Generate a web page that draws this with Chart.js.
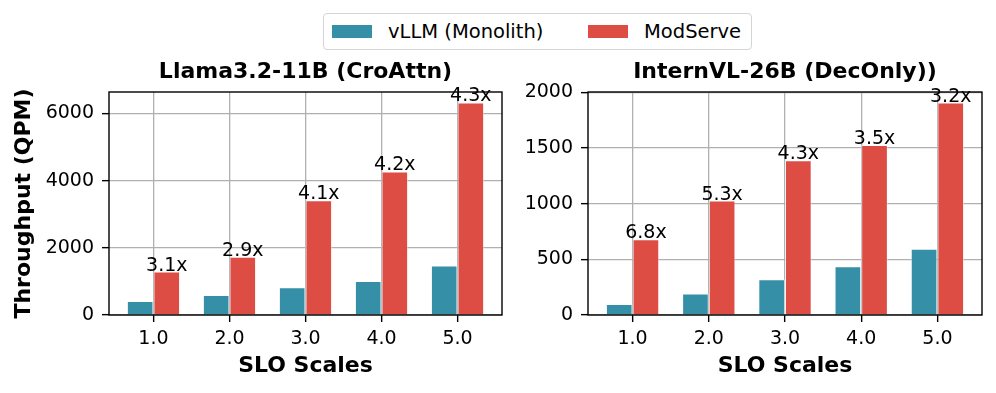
<!DOCTYPE html>
<html>
<head>
<meta charset="utf-8">
<script src="https://cdn.jsdelivr.net/npm/chart.js@4.4.1/dist/chart.umd.min.js"></script>
<style>
  html, body { margin: 0; padding: 0; background: #fff; }
  body { width: 996px; height: 393px; position: relative; overflow: hidden; font-family: 'DejaVu Sans', sans-serif; }
  #legend { position: absolute; left: 323px; top: 13px; width: 427px; height: 35px; border: 1px solid #d4d4d4; border-radius: 4px; }
  .item { position: absolute; top: 0; height: 35px; display: flex; align-items: center; font-size: 19.5px; color: #000; white-space: nowrap; }
  .swatch { width: 40px; height: 13px; margin-right: 16px; }
  canvas { position: absolute; top: 56px; }
</style>
</head>
<body>
<div id="legend">
  <div class="item" style="left:8px"><span class="swatch" style="background:#348FA7"></span>vLLM (Monolith)</div>
  <div class="item" style="left:264px"><span class="swatch" style="background:#DD4D44"></span>ModServe</div>
</div>
<canvas id="llama" width="505" height="337" style="left:0"></canvas>
<canvas id="intern" width="491" height="337" style="left:505px"></canvas>
<script>
// ── Dados ──────────────────────────────────────────────────────
const sloScales = [1, 2, 3, 4, 5];
const sloLabels = ['1.0', '2.0', '3.0', '4.0', '5.0'];

const llamaVllm     = [415, 595, 830, 1010, 1475];
const llamaModServe = [1295, 1735, 3415, 4275, 6330];
const llamaSpeedup  = ['3.1x', '2.9x', '4.1x', '4.2x', '4.3x'];
const llamaTicks    = [0, 2000, 4000, 6000];

const internVllm     = [98, 193, 320, 438, 596];
const internModServe = [680, 1028, 1390, 1527, 1908];
const internSpeedup  = ['6.8x', '5.3x', '4.3x', '3.5x', '3.2x'];
const internTicks    = [0, 500, 1000, 1500, 2000];

const COLORS = {
  vllm:  '#348FA7',
  mod:   '#DD4D44',
  grid:  '#b0b0b0',
  text:  '#000000'
};
const FONT = "'DejaVu Sans', sans-serif";

Chart.defaults.font.family = FONT;
Chart.defaults.color = COLORS.text;

// spines + rótulos de speedup sobre as barras
const overlayPlugin = {
  id: 'overlay',
  afterDraw(chart, args, opts) {
    const { ctx, chartArea: a } = chart;
    ctx.save();
    ctx.strokeStyle = '#000';
    ctx.lineWidth = 1.4;
    ctx.strokeRect(a.left, a.top, a.right - a.left, a.bottom - a.top);

    const meta = chart.getDatasetMeta(1);
    ctx.fillStyle = '#000';
    ctx.font = `19px ${FONT}`;
    ctx.textAlign = 'center';
    ctx.textBaseline = 'alphabetic';
    meta.data.forEach((bar, i) => {
      ctx.fillText(opts.labels[i], bar.x, bar.y - 1);
    });
    ctx.restore();
  }
};

const toPoints = vals => sloScales.map((x, i) => ({ x, y: vals[i] }));

// ── Gráfico de barras agrupadas ────────────────────────────────
const renderPanel = (canvasId, cfg) => {
  const ctx = document.getElementById(canvasId).getContext('2d');
  return new Chart(ctx, {
    type: 'bar',
    data: {
      datasets: [
        {
          label: 'vLLM (Monolith)',
          data: toPoints(cfg.vllm),
          backgroundColor: COLORS.vllm,
          borderColor: 'rgba(255,255,255,0.45)',
          borderWidth: 1
        },
        {
          label: 'ModServe',
          data: toPoints(cfg.mod),
          backgroundColor: COLORS.mod,
          borderColor: 'rgba(255,255,255,0.45)',
          borderWidth: 1
        }
      ]
    },
    plugins: [overlayPlugin],
    options: {
      responsive: false,
      animation: false,
      categoryPercentage: 0.7,
      barPercentage: 1.0,
      layout: { padding: { left: 0, right: cfg.padRight, top: 0, bottom: 0 } },
      plugins: {
        legend: { display: false },
        tooltip: { enabled: false },
        title: {
          display: true,
          fullSize: false,   // centraliza sobre a área do gráfico
          text: cfg.title,
          font: { size: 22, weight: 'bold' },
          color: '#000',
          padding: { top: 2.8, bottom: 6.8 }
        },
        overlay: { labels: cfg.speedup }
      },
      scales: {
        x: {
          type: 'linear',
          min: 0.415,
          max: 5.585,
          offset: false,
          z: 1,
          afterBuildTicks: s => { s.ticks = sloScales.map(v => ({ value: v })); },
          afterFit: s => { s.height = 78; },
          grid: { color: COLORS.grid, lineWidth: 1.3, offset: false, tickColor: '#000', tickLength: 7, tickWidth: 1.4 },
          border: { display: false },
          ticks: {
            font: { size: 19 },
            color: '#000',
            padding: 6,
            maxRotation: 0,
            autoSkip: false,
            callback: v => sloLabels[sloScales.indexOf(v)]
          },
          title: {
            display: true,
            text: 'SLO Scales',
            font: { size: 22, weight: 'bold' },
            color: '#000',
            padding: { top: 0, bottom: 13.8 }
          }
        },
        y: {
          min: 0,
          max: cfg.yMax,
          z: 1,
          afterBuildTicks: s => { s.ticks = cfg.yTicks.map(v => ({ value: v })); },
          afterFit: s => { s.width = cfg.yWidth; },
          grid: { color: COLORS.grid, lineWidth: 1.3, tickColor: '#000', tickLength: 7, tickWidth: 1.4 },
          border: { display: false },
          ticks: { font: { size: 19 }, color: '#000', padding: 8, callback: v => String(v) },
          title: {
            display: !!cfg.yTitle,
            text: cfg.yTitle || '',
            font: { size: 22, weight: 'bold' },
            color: '#000',
            padding: { top: 11, bottom: 0 }
          }
        }
      }
    }
  });
};

renderPanel('llama', {
  title: 'Llama3.2-11B (CroAttn)',
  vllm: llamaVllm,
  mod: llamaModServe,
  speedup: llamaSpeedup,
  yTicks: llamaTicks,
  yMax: 6640,
  yWidth: 109,
  yTitle: 'Throughput (QPM)',
  padRight: 3
});

renderPanel('intern', {
  title: 'InternVL-26B (DecOnly))',
  vllm: internVllm,
  mod: internModServe,
  speedup: internSpeedup,
  yTicks: internTicks,
  yMax: 2003,
  yWidth: 83,
  padRight: 14
});
</script>
</body>
</html>
